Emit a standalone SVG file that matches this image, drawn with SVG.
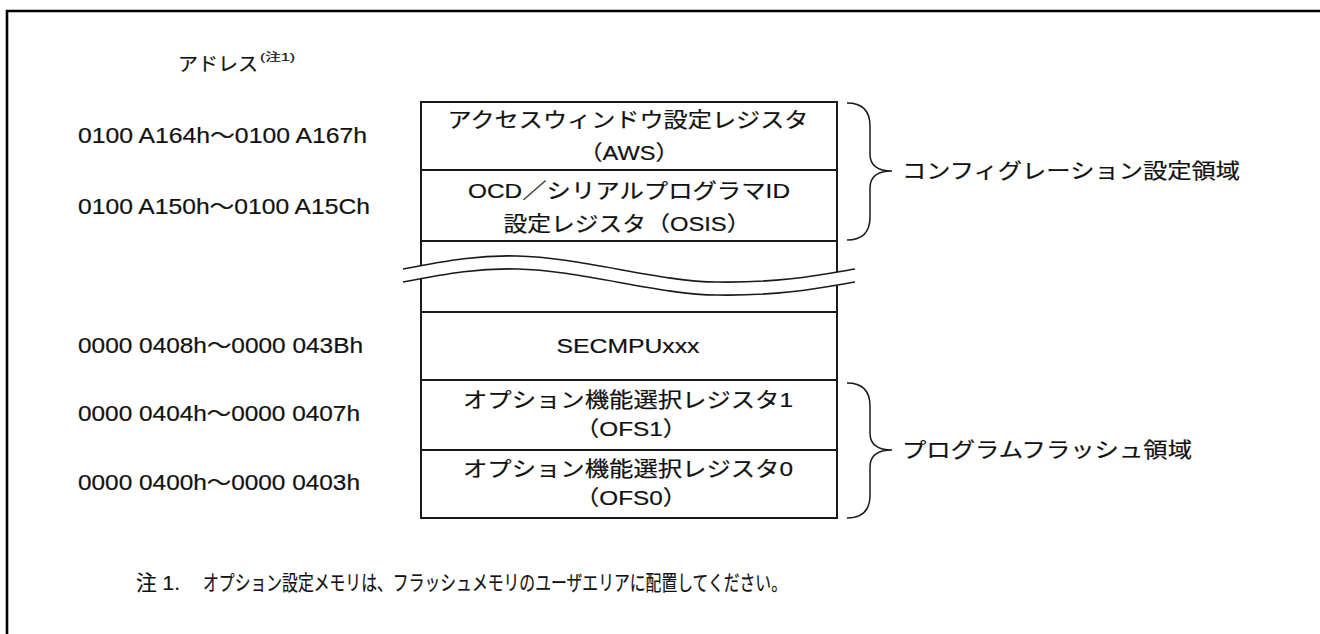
<svg xmlns="http://www.w3.org/2000/svg" width="1320" height="634" viewBox="0 0 1320 634">
<style>
  .t { font-family: "Liberation Sans", "Noto Sans CJK JP", sans-serif; fill: #111; stroke: #111; stroke-width: 0.2; }
  .addr { font-size: 22px; }
  .box { font-size: 21px; text-anchor: middle; }
  .par { font-size: 21px; text-anchor: middle; }
  .lbl { font-size: 21px; }
  .cell { fill: #fff; stroke: #1a1a1a; stroke-width: 2; }
  .brace { fill: none; stroke: #1a1a1a; stroke-width: 1.5; }
  .wave { fill: none; stroke: #1a1a1a; stroke-width: 1.6; }
</style>
<rect x="0" y="0" width="1320" height="634" fill="#fff"/>
<path d="M7,640 V11 H1330" fill="none" stroke="#000" stroke-width="2.6"/>

<g id="header">
  <text class="t" x="178" y="71" font-size="19" stroke-width="0.4" textLength="80" lengthAdjust="spacingAndGlyphs">アドレス</text>
  <text class="t" x="260" y="61" font-size="11" stroke-width="0.1" textLength="35" lengthAdjust="spacingAndGlyphs">(注1)</text>
</g>

<g id="addresses">
  <text class="t addr" x="78" y="143" textLength="289" lengthAdjust="spacingAndGlyphs">0100 A164h～0100 A167h</text>
  <text class="t addr" x="78" y="214" textLength="292" lengthAdjust="spacingAndGlyphs">0100 A150h～0100 A15Ch</text>
  <text class="t addr" x="78" y="353" textLength="285" lengthAdjust="spacingAndGlyphs">0000 0408h～0000 043Bh</text>
  <text class="t addr" x="78" y="421" textLength="282" lengthAdjust="spacingAndGlyphs">0000 0404h～0000 0407h</text>
  <text class="t addr" x="78" y="490" textLength="282" lengthAdjust="spacingAndGlyphs">0000 0400h～0000 0403h</text>
</g>

<g id="aws">
  <rect class="cell" x="421" y="102" width="416" height="68"/>
  <text class="t box" x="628" y="127" textLength="361" lengthAdjust="spacingAndGlyphs">アクセスウィンドウ設定レジスタ</text>
  <text class="t par" x="629" y="160" textLength="100" lengthAdjust="spacingAndGlyphs">（AWS）</text>
</g>

<g id="osis">
  <rect class="cell" x="421" y="170" width="416" height="71"/>
  <text class="t box" x="629" y="198" textLength="322" lengthAdjust="spacingAndGlyphs">OCD／シリアルプログラマID</text>
  <text class="t box" x="627" y="231" textLength="247" lengthAdjust="spacingAndGlyphs">設定レジスタ（OSIS）</text>
</g>

<g id="gap">
  <rect class="cell" x="421" y="241" width="416" height="71"/>
  <path d="M403,269 C450,260 480,255 517,256 C580,257 660,282 717,282 C780,283 820,275 855,269 L855,282 C820,288 780,296 717,295 C660,295 580,270 517,269 C480,268 450,273 403,282 Z" fill="#fff" stroke="none"/>
  <path class="wave" d="M403,269 C450,260 480,255 517,256 C580,257 660,282 717,282 C780,283 820,275 855,269"/>
  <path class="wave" d="M403,282 C450,273 480,268 517,269 C580,270 660,295 717,295 C780,296 820,288 855,282"/>
</g>

<g id="secmpu">
  <rect class="cell" x="421" y="312" width="416" height="68"/>
  <text class="t box" x="628" y="353" font-size="18" textLength="143" lengthAdjust="spacingAndGlyphs">SECMPUxxx</text>
</g>

<g id="ofs1">
  <rect class="cell" x="421" y="380" width="416" height="70"/>
  <text class="t box" x="628" y="407" textLength="330" lengthAdjust="spacingAndGlyphs">オプション機能選択レジスタ1</text>
  <text class="t par" x="631" y="436" textLength="112" lengthAdjust="spacingAndGlyphs">（OFS1）</text>
</g>

<g id="ofs0">
  <rect class="cell" x="421" y="450" width="416" height="68"/>
  <text class="t box" x="628" y="476" textLength="330" lengthAdjust="spacingAndGlyphs">オプション機能選択レジスタ0</text>
  <text class="t par" x="631" y="505" textLength="112" lengthAdjust="spacingAndGlyphs">（OFS0）</text>
</g>

<g id="connectors">
  <path class="brace" d="M847,103 Q870,103 870,126 V154 Q870,171 892,171 Q870,171 870,188 V217 Q870,240 847,240"/>
  <path class="brace" d="M847,383 Q870,383 870,406 V433 Q870,450 892,450 Q870,450 870,467 V495 Q870,518 847,518"/>
</g>

<g id="labels">
  <text class="t lbl" x="902" y="178" textLength="338" lengthAdjust="spacingAndGlyphs">コンフィグレーション設定領域</text>
  <text class="t lbl" x="902" y="457" textLength="290" lengthAdjust="spacingAndGlyphs">プログラムフラッシュ領域</text>
</g>

<g id="note">
  <text class="t" x="136" y="590" font-size="21" stroke-width="0.5" textLength="44" lengthAdjust="spacingAndGlyphs">注 1.</text>
  <text class="t" x="203" y="590" font-size="21" stroke-width="0.5" textLength="584" lengthAdjust="spacingAndGlyphs">オプション設定メモリは、フラッシュメモリのユーザエリアに配置してください。</text>
</g>
</svg>
